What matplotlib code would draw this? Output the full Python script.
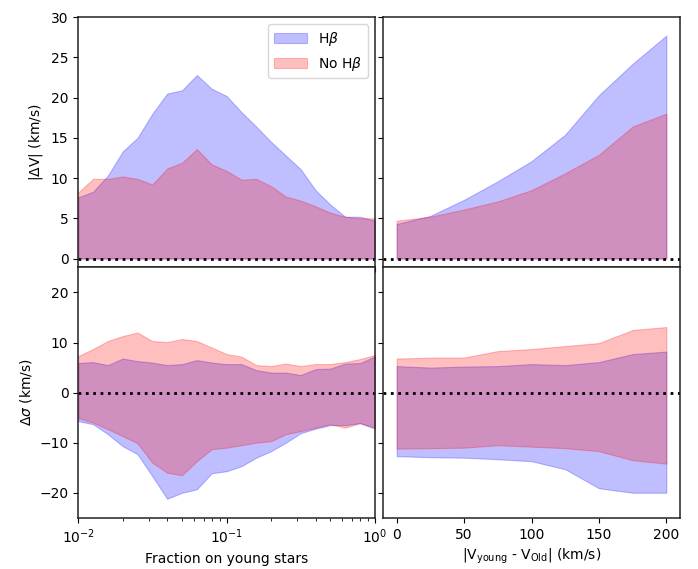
import numpy as np
import matplotlib
matplotlib.use("Agg")
import matplotlib.pyplot as plt

# fraction of light in young stars (log spaced, 21 samples)
frac = 10 ** np.linspace(-2, 0, 21)
# velocity offset between young and old components
dv = [0, 25, 50, 75, 100, 125, 150, 175, 200]

# |dV| vs fraction
dV_hb_frac = [7.6, 8.3, 10.3, 13.3, 15.0, 18.0, 20.5, 20.9, 22.8, 21.1, 20.2,
              18.2, 16.4, 14.5, 12.8, 11.1, 8.5, 6.7, 5.2, 5.2, 4.7]
dV_nohb_frac = [8.2, 9.9, 9.9, 10.2, 9.9, 9.2, 11.2, 11.9, 13.6, 11.7, 10.9,
                9.8, 9.9, 9.0, 7.7, 7.2, 6.5, 5.7, 5.2, 5.0, 5.0]

# |dV| vs velocity offset
dV_hb_vel = [4.3, 5.3, 7.3, 9.6, 12.1, 15.4, 20.3, 24.2, 27.7]
dV_nohb_vel = [4.7, 5.2, 6.1, 7.1, 8.5, 10.6, 12.9, 16.4, 18.0]

# dsigma range vs fraction (upper / lower)
ds_hb_hi_frac = [5.9, 6.1, 5.5, 6.8, 6.3, 6.0, 5.5, 5.7, 6.5, 6.0, 5.7,
                 5.7, 4.5, 4.0, 4.0, 3.5, 4.7, 4.8, 5.8, 5.9, 7.2]
ds_hb_lo_frac = [-5.7, -6.3, -8.3, -10.7, -12.3, -16.7, -21.2, -20.0, -19.3, -16.1, -15.7,
                 -14.7, -13.0, -11.7, -10.0, -8.1, -7.2, -6.5, -6.5, -6.1, -7.2]
ds_nohb_hi_frac = [7.3, 8.7, 10.3, 11.3, 12.0, 10.3, 10.1, 10.7, 10.3, 9.0, 7.7,
                   7.2, 5.5, 5.3, 5.8, 5.3, 5.7, 5.7, 6.1, 6.7, 7.5]
ds_nohb_lo_frac = [-5.1, -6.0, -7.3, -8.7, -10.1, -14.0, -16.0, -16.5, -13.7, -11.3, -11.0,
                   -10.5, -10.0, -9.7, -8.3, -7.7, -7.0, -6.3, -7.0, -6.1, -7.0]

# dsigma range vs velocity offset
ds_hb_hi_vel = [5.3, 5.0, 5.2, 5.3, 5.7, 5.5, 6.1, 7.7, 8.2]
ds_hb_lo_vel = [-12.7, -12.9, -13.0, -13.3, -13.7, -15.3, -19.1, -20.0, -20.0]
ds_nohb_hi_vel = [6.8, 7.0, 7.0, 8.3, 8.7, 9.3, 9.9, 12.5, 13.1]
ds_nohb_lo_vel = [-11.2, -11.1, -11.0, -10.5, -10.8, -11.1, -11.7, -13.5, -14.2]

plt.rcParams["font.size"] = 10
plt.rcParams["axes.linewidth"] = 1.1
plt.rcParams["axes.edgecolor"] = "#222222"

fig, axes = plt.subplots(2, 2, figsize=(6.98, 5.69), dpi=100,
                         sharex="col", sharey="row")
fig.subplots_adjust(left=0.112, right=0.974, top=0.970, bottom=0.090,
                    wspace=0.028, hspace=0.0)

alpha = 0.25
kw_b = dict(color="blue", alpha=alpha, lw=0.8)
kw_r = dict(color="red", alpha=alpha, lw=0.8)

ax = axes[0, 0]
ax.fill_between(frac, 0, dV_hb_frac, label=r"H$\beta$", **kw_b)
ax.fill_between(frac, 0, dV_nohb_frac, label=r"No H$\beta$", **kw_r)
ax.set_xscale("log")
ax.set_xlim(1e-2, 1)
ax.set_ylim(-1.1, 30)
ax.set_ylabel(r"|$\Delta$V| (km/s)")
ax.legend(loc="upper right", handlelength=2.4)

ax = axes[0, 1]
ax.fill_between(dv, 0, dV_hb_vel, **kw_b)
ax.fill_between(dv, 0, dV_nohb_vel, **kw_r)

ax = axes[1, 0]
ax.fill_between(frac, ds_hb_lo_frac, ds_hb_hi_frac, **kw_b)
ax.fill_between(frac, ds_nohb_lo_frac, ds_nohb_hi_frac, **kw_r)
ax.set_ylim(-25, 25)
ax.set_ylabel(r"$\Delta\sigma$ (km/s)")
ax.set_xlabel("Fraction on young stars")

ax = axes[1, 1]
ax.fill_between(dv, ds_hb_lo_vel, ds_hb_hi_vel, **kw_b)
ax.fill_between(dv, ds_nohb_lo_vel, ds_nohb_hi_vel, **kw_r)
ax.set_xlabel(r"|V$_{\rm young}$ - V$_{\rm Old}$| (km/s)")

for a in axes.flat:
    a.axhline(0, color="black", ls=":", lw=2)

fig.savefig("out.png", dpi=100)
